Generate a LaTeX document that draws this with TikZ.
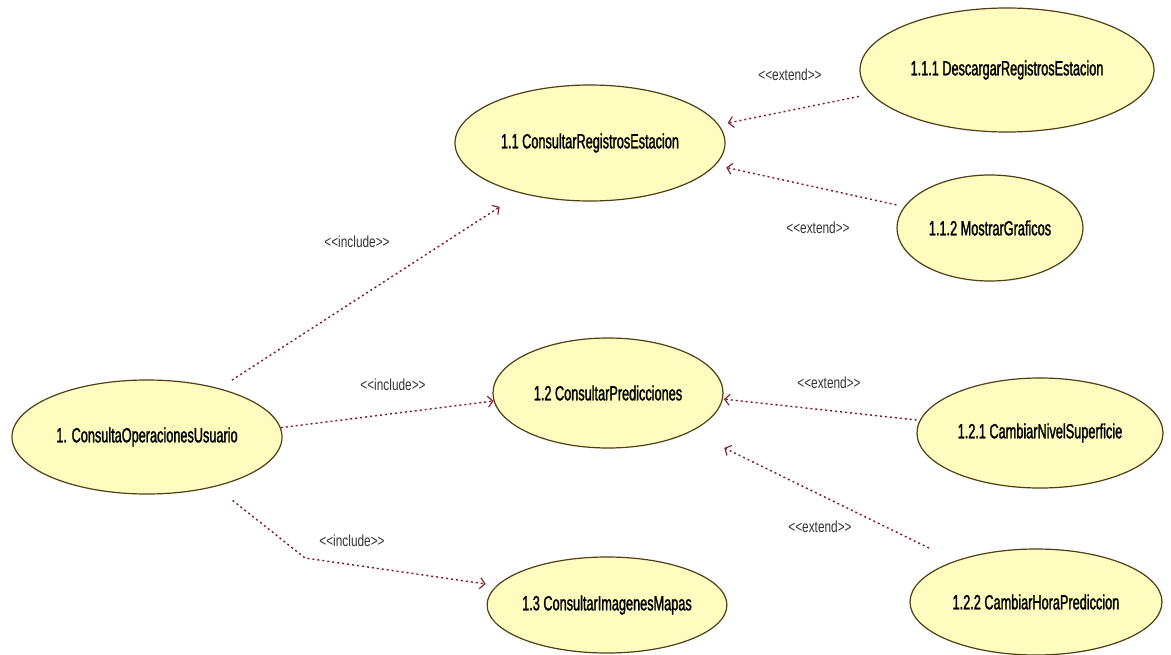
\documentclass[tikz,border=0pt]{standalone}
\usepackage{fontspec}
\usetikzlibrary{shapes.geometric,arrows.meta}
\newfontfamily\ucfont{Liberation Sans}[FakeStretch=0.62,FakeBold=1.4]
\newfontfamily\stfont{Liberation Sans}[FakeStretch=0.74]
\definecolor{ucfill}{RGB}{255,252,192}
\definecolor{ucline}{RGB}{80,62,20}
\definecolor{dep}{RGB}{128,24,44}
\begin{document}
\begin{tikzpicture}[x=1pt,y=-1pt,
  usecase/.style={ellipse, draw=ucline, fill=ucfill, line width=1.2pt, inner sep=0pt,
    font=\ucfont\fontsize{20.5}{22}\selectfont},
  depline/.style={draw=dep, line width=1.4pt, dash pattern=on 2pt off 3pt,
    -{Straight Barb[length=5pt,width=11pt,line width=1.1pt]}},
  stereo/.style={font=\stfont\fontsize{16}{18}\selectfont, text=black!80, inner sep=1pt}]
\fill[white] (0,0) rectangle (1171,654);
\useasboundingbox (0,0) rectangle (1171,654);

\node[usecase, minimum width=270pt, minimum height=114pt] (u) at (147,437) {1. ConsultaOperacionesUsuario};
\node[usecase, minimum width=270pt, minimum height=116pt] (c11) at (590,143) {1.1 ConsultarRegistrosEstacion};
\node[usecase, minimum width=294pt, minimum height=124pt] (d111) at (1007,70) {1.1.1 DescargarRegistrosEstacion};
\node[usecase, minimum width=186pt, minimum height=106pt] (m112) at (990,228) {1.1.2 MostrarGraficos};
\node[usecase, minimum width=230pt, minimum height=110pt] (c12) at (608,393) {1.2 ConsultarPredicciones};
\node[usecase, minimum width=246pt, minimum height=110pt] (n121) at (1040,433) {1.2.1 CambiarNivelSuperficie};
\node[usecase, minimum width=252pt, minimum height=106pt] (h122) at (1036,602) {1.2.2 CambiarHoraPrediccion};
\node[usecase, minimum width=237pt, minimum height=96pt] (c13) at (607,605) {1.3 ConsultarImagenesMapas};

\coordinate (b3) at (305,558);

\draw[depline, shorten <=15pt, shorten >=25pt] (u.34) -- (c11.216);
\draw[depline] (u.4) -- (c12.184);
\draw[depline, shorten <=22pt, shorten >=11pt] (u.-36) -- (b3) -- (c13.170);

\draw[depline, shorten <=12pt, shorten >=9pt] (d111.190) -- (c11.8);
\draw[depline, shorten <=8pt, shorten >=11pt] (m112.166) -- (c11.-10);
\draw[depline, shorten <=3pt, shorten >=1pt] (n121.174) -- (c12.-3);
\draw[depline, shorten <=29pt, shorten >=37pt] (h122.153) -- (c12.-25);

\node[stereo] (l1) at (357,242) {<<include>>};
\node[stereo] (l2) at (393,385) {<<include>>};
\node[stereo] (l3) at (352,541) {<<include>>};
\node[stereo] (l4) at (790,75) {<<extend>>};
\node[stereo] (l5) at (818,228) {<<extend>>};
\node[stereo] (l6) at (829,383) {<<extend>>};
\node[stereo] (l7) at (820,527) {<<extend>>};
\end{tikzpicture}
\end{document}
